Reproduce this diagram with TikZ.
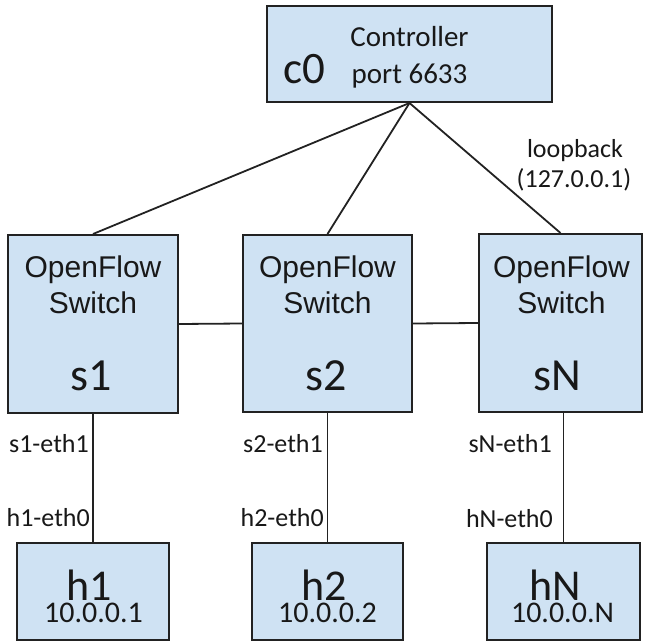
\documentclass[tikz,border=0pt]{standalone}
\usepackage{fontspec}
\setmainfont{Carlito}
\newfontfamily\arialfont{Liberation Sans}
\definecolor{boxfill}{RGB}{207,226,243}
\definecolor{boxline}{RGB}{34,34,34}
\definecolor{ink}{RGB}{24,24,24}

\begin{document}
\begin{tikzpicture}[x=1pt, y=-1pt,
  box/.style={draw=boxline, fill=boxfill, line width=2pt, inner sep=0pt},
  link/.style={draw=boxline, line width=1.8pt},
  txt/.style={text=ink, inner sep=0pt, anchor=base},
  port/.style={text=ink, inner sep=0pt, anchor=base east, font=\fontsize{26}{30}\selectfont},
  swfont/.style={font=\arialfont\fontsize{30}{36}\selectfont},
  bigfont/.style={font=\fontsize{46}{50}\selectfont}]
\useasboundingbox (0,0) rectangle (645,642);

% controller
\node[box, minimum width=285, minimum height=96] (c0) at (409.5,54) {};
\node[txt, font=\fontsize{29}{36}\selectfont] (c0title) at (409.5,47) {Controller};
\node[txt, font=\fontsize{29}{36}\selectfont] (c0port) at (409.5,83) {port 6633};
\node[txt, font=\fontsize{45}{48}\selectfont] (c0name) at (304.5,83) {c0};

% switches
\node[box, minimum width=170, minimum height=178] (s1) at (93,324) {};
\node[box, minimum width=169, minimum height=177] (s2) at (327.5,323.5) {};
\node[box, minimum width=163, minimum height=178] (sN) at (560.5,323) {};
\node[txt, swfont] (s1top) at (93,277) {OpenFlow};
\node[txt, swfont] (s1mid) at (93,313) {Switch};
\node[txt, bigfont] (s1name) at (91,390) {s1};
\node[txt, swfont] (s2top) at (327.5,277) {OpenFlow};
\node[txt, swfont] (s2mid) at (327.5,313) {Switch};
\node[txt, bigfont] (s2name) at (326,390) {s2};
\node[txt, swfont] (sNtop) at (561.5,277) {OpenFlow};
\node[txt, swfont] (sNmid) at (561.5,313) {Switch};
\node[txt, bigfont] (sNname) at (557,390) {sN};

% hosts
\node[box, minimum width=152, minimum height=97] (h1) at (93,591.5) {};
\node[box, minimum width=151, minimum height=97] (h2) at (327.5,591.5) {};
\node[box, minimum width=153, minimum height=97] (hN) at (563.5,591.5) {};
\node[txt, font=\fontsize{44}{48}\selectfont] (h1name) at (89,600) {h1};
\node[txt, font=\fontsize{30}{34}\selectfont] (h1ip) at (93.5,622) {10.0.0.1};
\node[txt, font=\fontsize{44}{48}\selectfont] (h2name) at (324,600) {h2};
\node[txt, font=\fontsize{30}{34}\selectfont] (h2ip) at (327.5,622) {10.0.0.2};
\node[txt, font=\fontsize{44}{48}\selectfont] (hNname) at (555,600) {hN};
\node[txt, font=\fontsize{30}{34}\selectfont] (hNip) at (562.5,622) {10.0.0.N};

% links
\draw[link] (c0.south) -- (s1.north);
\draw[link] (c0.south) -- (s2.north);
\draw[link] (c0.south) -- (sN.north);
\draw[link] (s1.east) -- (s2.west);
\draw[link] (s2.east) -- (sN.west);
\draw[link] (s1.south) -- (h1.north);
\draw[link] (s2.south) -- (h2.north);
\draw[link] (hN.north |- sN.south) -- (hN.north);

% interface labels
\node[txt, font=\fontsize{26}{30}\selectfont] (lb1) at (575,157) {loopback};
\node[txt, font=\fontsize{26}{30}\selectfont] (lb2) at (574,187) {(127.0.0.1)};
\node[port] (s1eth) at (89,452) {s1-eth1};
\node[port] (h1eth) at (90,526) {h1-eth0};
\node[port] (s2eth) at (323,452) {s2-eth1};
\node[port] (h2eth) at (324,526) {h2-eth0};
\node[port] (sNeth) at (552,452) {sN-eth1};
\node[port] (hNeth) at (553,527) {hN-eth0};
\end{tikzpicture}
\end{document}
